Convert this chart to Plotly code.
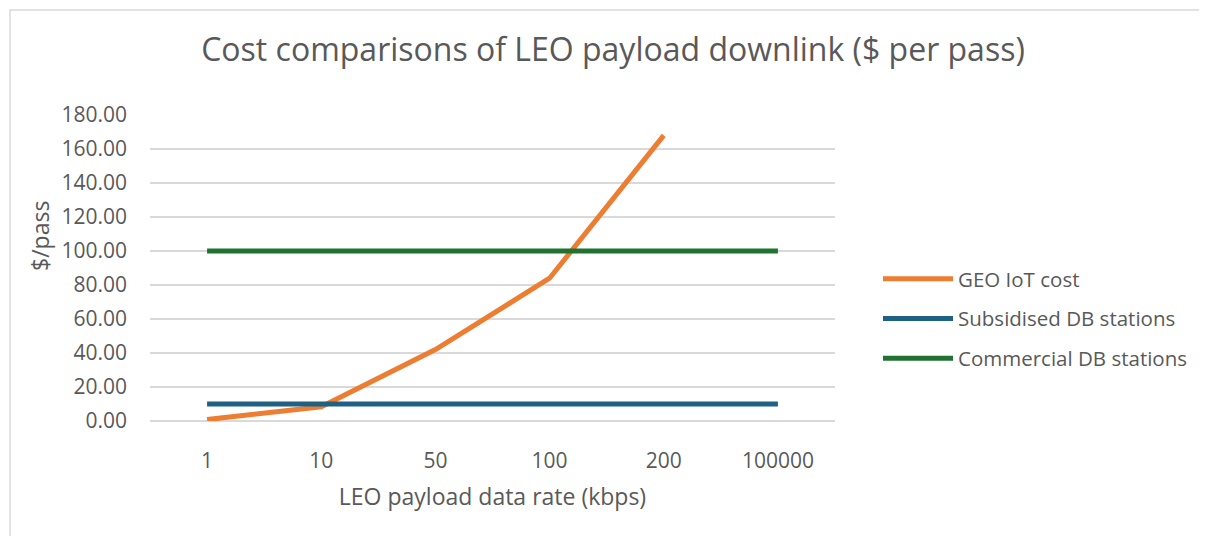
import plotly.graph_objects as go

categories = ["1", "10", "50", "100", "200", "100000"]
geo_iot_cost = [0.84, 8.4, 42.0, 84.0, 168.0, None]
subsidised_db = [10, 10, 10, 10, 10, 10]
commercial_db = [100, 100, 100, 100, 100, 100]

OFF = 8  # page body margin
W, H = 1207, 536
L, T = 150 - OFF, 115 - OFF
R = W - (835 - OFF)
B = H - (421 - OFF)
pw, ph = W - L - R, H - T - B

font_fam = "Open Sans, Liberation Sans, sans-serif"
grey = "#595959"

fig = go.Figure()
fig.add_trace(go.Scatter(x=categories, y=geo_iot_cost, mode="lines", name="GEO IoT cost",
                         legendgroup="a",
                         line=dict(color="#ED7D31", width=5), connectgaps=False))
fig.add_trace(go.Scatter(x=categories, y=subsidised_db, mode="lines", name="Subsidised DB stations",
                         legendgroup="b",
                         line=dict(color="#1F6185", width=5)))
fig.add_trace(go.Scatter(x=categories, y=commercial_db, mode="lines", name="Commercial DB stations",
                         legendgroup="c",
                         line=dict(color="#1F7230", width=5)))

fig.update_layout(
    width=W, height=H,
    margin=dict(l=L, r=R, t=T, b=B),
    paper_bgcolor="white", plot_bgcolor="white",
    font=dict(family=font_fam, color=grey, size=20),
    title=dict(text="Cost comparisons of LEO payload downlink ($ per pass)",
               x=(613 - OFF) / W, xanchor="center", y=1 - (50 - OFF) / H, yanchor="middle",
               font=dict(size=32, color=grey)),
    showlegend=True,
    legend=dict(x=(878 - OFF - L) / pw, xanchor="left", y=1 - (259 - OFF - T) / ph, yanchor="top",
                font=dict(size=20.5, color=grey), tracegroupgap=10, itemwidth=70,
                bgcolor="rgba(0,0,0,0)"),
    xaxis=dict(type="category", showgrid=False, showline=False, zeroline=False,
               ticks="", tickfont=dict(size=21, color=grey), ticklabelstandoff=25,
               title=dict(text="LEO payload data rate (kbps)", font=dict(size=23, color=grey),
                          standoff=15),
               range=[-0.5, 5.5]),
    yaxis=dict(range=[0, 180], dtick=20, tickformat=".2f", showgrid=True,
               gridcolor="#D9D9D9", gridwidth=1.5, zeroline=True, zerolinecolor="#D9D9D9",
               zerolinewidth=1.5, showline=False, ticks="", ticklabelstandoff=22,
               tickfont=dict(size=21, color=grey)),
    annotations=[dict(text="$/pass", xref="paper", yref="paper",
                      x=(40 - OFF - L) / pw, y=1 - (236 - OFF - T) / ph,
                      xanchor="center", yanchor="middle", textangle=-90, showarrow=False,
                      font=dict(size=23, color=grey))],
    shapes=[dict(type="rect", xref="paper", yref="paper",
                 x0=(10 - OFF - L) / pw, x1=(W + 5 - L) / pw,
                 y0=-(H + 5 - T - ph) / ph, y1=1 + (T - (10 - OFF)) / ph,
                 line=dict(color="#D9D9D9", width=1.5), fillcolor="rgba(0,0,0,0)", layer="below")],
)

fig.write_html("out.html")
